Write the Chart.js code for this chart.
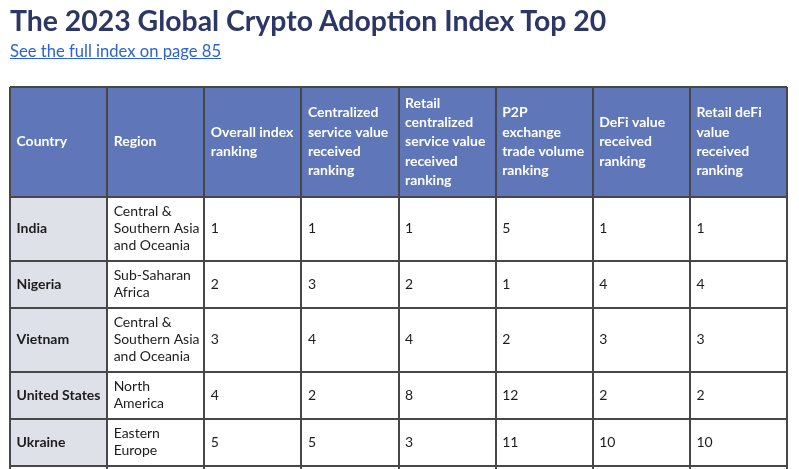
<!DOCTYPE html>
<html>
<head>
<meta charset="utf-8">
<script src="https://cdn.jsdelivr.net/npm/chart.js@4/dist/chart.umd.min.js"></script>
<style>
  body { margin: 0; background: #fff; font-family: Lato, "Open Sans", sans-serif; }
  #title { position: absolute; left: 10px; top: 3px; font-size: 28.4px; font-weight: bold; color: #2d3766; z-index: 2; }
  #link { position: absolute; left: 10px; top: 41px; font-size: 16.6px; color: #2c62d8; text-decoration: underline; z-index: 2; }
  #tableChart { position: absolute; left: 0; top: 0; }
</style>
</head>
<body>
<div id="title">The 2023 Global Crypto Adoption Index Top 20</div>
<div id="link">See the full index on page 85</div>
<canvas id="tableChart" width="799" height="469"></canvas>

<script>
// column headers (line breaks as in the table)
const headers = [
  ["Country"],
  ["Region"],
  ["Overall index", "ranking"],
  ["Centralized", "service value", "received", "ranking"],
  ["Retail", "centralized", "service value", "received", "ranking"],
  ["P2P", "exchange", "trade volume", "ranking"],
  ["DeFi value", "received", "ranking"],
  ["Retail deFi", "value", "received", "ranking"]
];

const countries = ["India", "Nigeria", "Vietnam", "United States", "Ukraine"];
const regions = [
  ["Central &", "Southern Asia", "and Oceania"],
  ["Sub-Saharan", "Africa"],
  ["Central &", "Southern Asia", "and Oceania"],
  ["North", "America"],
  ["Eastern", "Europe"]
];
const overallRank = [1, 2, 3, 4, 5];
const centralizedRank = [1, 3, 4, 2, 5];
const retailCentralizedRank = [1, 2, 4, 8, 3];
const p2pRank = [5, 1, 2, 12, 11];
const defiRank = [1, 4, 3, 2, 10];
const retailDefiRank = [1, 4, 3, 2, 10];

// build the cell text rows
const rows = [headers];
countries.forEach((c, i) => {
  rows.push([
    [c], regions[i],
    [String(overallRank[i])], [String(centralizedRank[i])], [String(retailCentralizedRank[i])],
    [String(p2pRank[i])], [String(defiRank[i])], [String(retailDefiRank[i])]
  ]);
});

const headLine = 19.3, bodyLine = 17, vPad = 6.5, hPad = 6.5;
const blue = "#5f76b8", grey = "#dfe1e9", lineColor = "#474747";

// row boundaries from the number of text lines in each row
const bounds = [0];
rows.forEach((r, i) => {
  const n = Math.max(...r.map(c => c.length));
  bounds.push(bounds[i] + n * (i === 0 ? headLine : bodyLine) + 2 * vPad);
});

const colKeys = headers.map((h, i) => "c" + i);

const datasets = rows.map((r, i) => ({
  data: colKeys.map(() => [bounds[i], bounds[i + 1]]),
  backgroundColor: colKeys.map((k, j) => i === 0 ? blue : (j === 0 ? grey : "#ffffff")),
  borderWidth: 0,
  grouped: false,
  barPercentage: 1,
  categoryPercentage: 1
}));

const cellText = {
  id: "cellText",
  afterDatasetsDraw(chart) {
    const ctx = chart.ctx;
    const x = chart.scales.x, y = chart.scales.y;
    const w = x.width / colKeys.length;
    ctx.save();
    ctx.textBaseline = "middle";
    ctx.textAlign = "left";
    rows.forEach((r, i) => {
      const lh = i === 0 ? headLine : bodyLine;
      const cy = y.getPixelForValue((bounds[i] + bounds[i + 1]) / 2);
      r.forEach((lines, j) => {
        const left = x.getPixelForValue(j) - w / 2 + hPad;
        if (i === 0) {
          ctx.fillStyle = "#ffffff";
          ctx.font = "bold 14px Lato";
        } else {
          ctx.fillStyle = "#1c1c1c";
          ctx.font = (j === 0 ? "bold " : "") + "14px Lato";
        }
        lines.forEach((t, k) => {
          ctx.fillText(t, left, cy + (k - (lines.length - 1) / 2) * lh);
        });
      });
    });
    ctx.restore();
  }
};

new Chart(document.getElementById("tableChart"), {
  type: "bar",
  data: { labels: colKeys, datasets: datasets },
  options: {
    responsive: false,
    animation: false,
    events: [],
    layout: { padding: { left: 10, right: 12, top: 87, bottom: 0 } },
    plugins: { legend: { display: false }, tooltip: { enabled: false } },
    scales: {
      x: {
        offset: true,
        ticks: { display: false },
        grid: { z: 1, offset: true, color: lineColor, lineWidth: 2, drawTicks: false },
        border: { display: false }
      },
      y: {
        reverse: true,
        min: 0,
        max: 382,
        ticks: { display: false },
        afterBuildTicks: s => { s.ticks = bounds.map(v => ({ value: v })); },
        grid: { z: 1, color: lineColor, lineWidth: 2, drawTicks: false },
        border: { display: false }
      }
    }
  },
  plugins: [cellText]
});
</script>
</body>
</html>
